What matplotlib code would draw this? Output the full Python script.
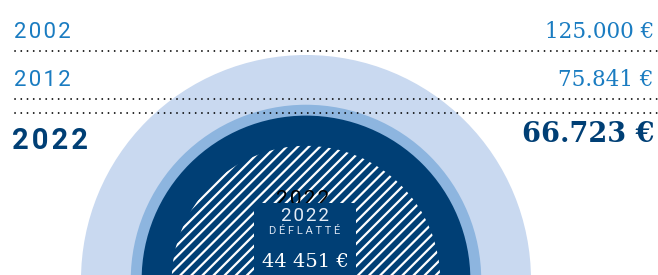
import numpy as np
import matplotlib.pyplot as plt
from matplotlib.patches import Circle, Rectangle

# Dati
anni = ["2002", "2012", "2022"]
valori = [125000, 75841, 66723]
etichette = ["125.000 €", "75.841 €", "66.723 €"]
deflatto = 44451
etichetta_deflatto = "44 451 €"

# Colori
chiaro = "#c9d9f0"
medio = "#8db5df"
scuro = "#003f75"
blu = "#1a7cc1"

plt.rcParams["hatch.linewidth"] = 1.6


def spaziato(s):
    # un po' di spazio tra le lettere
    return "\u200a".join(s)


fig = plt.figure(figsize=(6.58, 2.75), dpi=100)
ax = fig.add_axes([0, 0, 1, 1])
ax.set_xlim(0, 658)
ax.set_ylim(275, 0)
ax.axis("off")

# Cerchi (area proporzionale al valore)
cx, cy = 306, 280
rmax = 225
colori = [chiaro, medio, scuro]
for v, c in zip(valori, colori):
    r = rmax * np.sqrt(v / valori[0])
    ax.add_patch(Circle((cx, cy), r, facecolor=c, edgecolor="none", zorder=1))

r_d = rmax * np.sqrt(deflatto / valori[0])
ax.add_patch(Circle((cx, cy), r_d, facecolor="none", edgecolor="white",
                    hatch="///", linewidth=0, zorder=2))

# Linee puntinate
for y in [51, 99, 113]:
    ax.plot([15, 657], [y, y], color="black", linewidth=1.3,
            linestyle=(0, (0.05, 3.4)), dash_capstyle="round", zorder=5)

# Testi a sinistra e a destra
ys = [33, 81, 141]
for i in range(3):
    if i < 2:
        ax.text(14, ys[i], spaziato(anni[i]), color=blu, fontsize=16, family="Roboto",
                ha="left", va="center")
        ax.text(654, ys[i] - 1, etichette[i], color=blu, fontsize=15.5,
                family="DejaVu Serif", ha="right", va="center")
    else:
        ax.text(12, ys[i], spaziato(anni[i]), color=scuro, fontsize=21, family="Roboto",
                fontweight="bold", ha="left", va="center")
        ax.text(654, 135, etichette[i], color=scuro, fontsize=19.5,
                family="DejaVu Serif", fontweight="bold", ha="right", va="center")

# Etichetta del cerchio deflattato
ax.text(303, 205, spaziato("2022"), color="black", fontsize=15, family="Roboto",
        ha="center", va="baseline", zorder=3)
ax.add_patch(Rectangle((254, 203), 102, 80, facecolor=scuro, edgecolor="none", zorder=4))
ax.text(305, 216, spaziato("2022"), color="#e4ecf6", fontsize=13.5, family="Roboto",
        ha="center", va="center", zorder=6)
ax.text(305, 231, "D É F L A T T É", color="#d8e2f0", fontsize=8, family="Roboto",
        ha="center", va="center", zorder=6)
ax.text(305, 262, etichetta_deflatto, color="white", fontsize=14,
        family="DejaVu Serif", ha="center", va="center", zorder=6)

fig.savefig("out.png", dpi=100)
